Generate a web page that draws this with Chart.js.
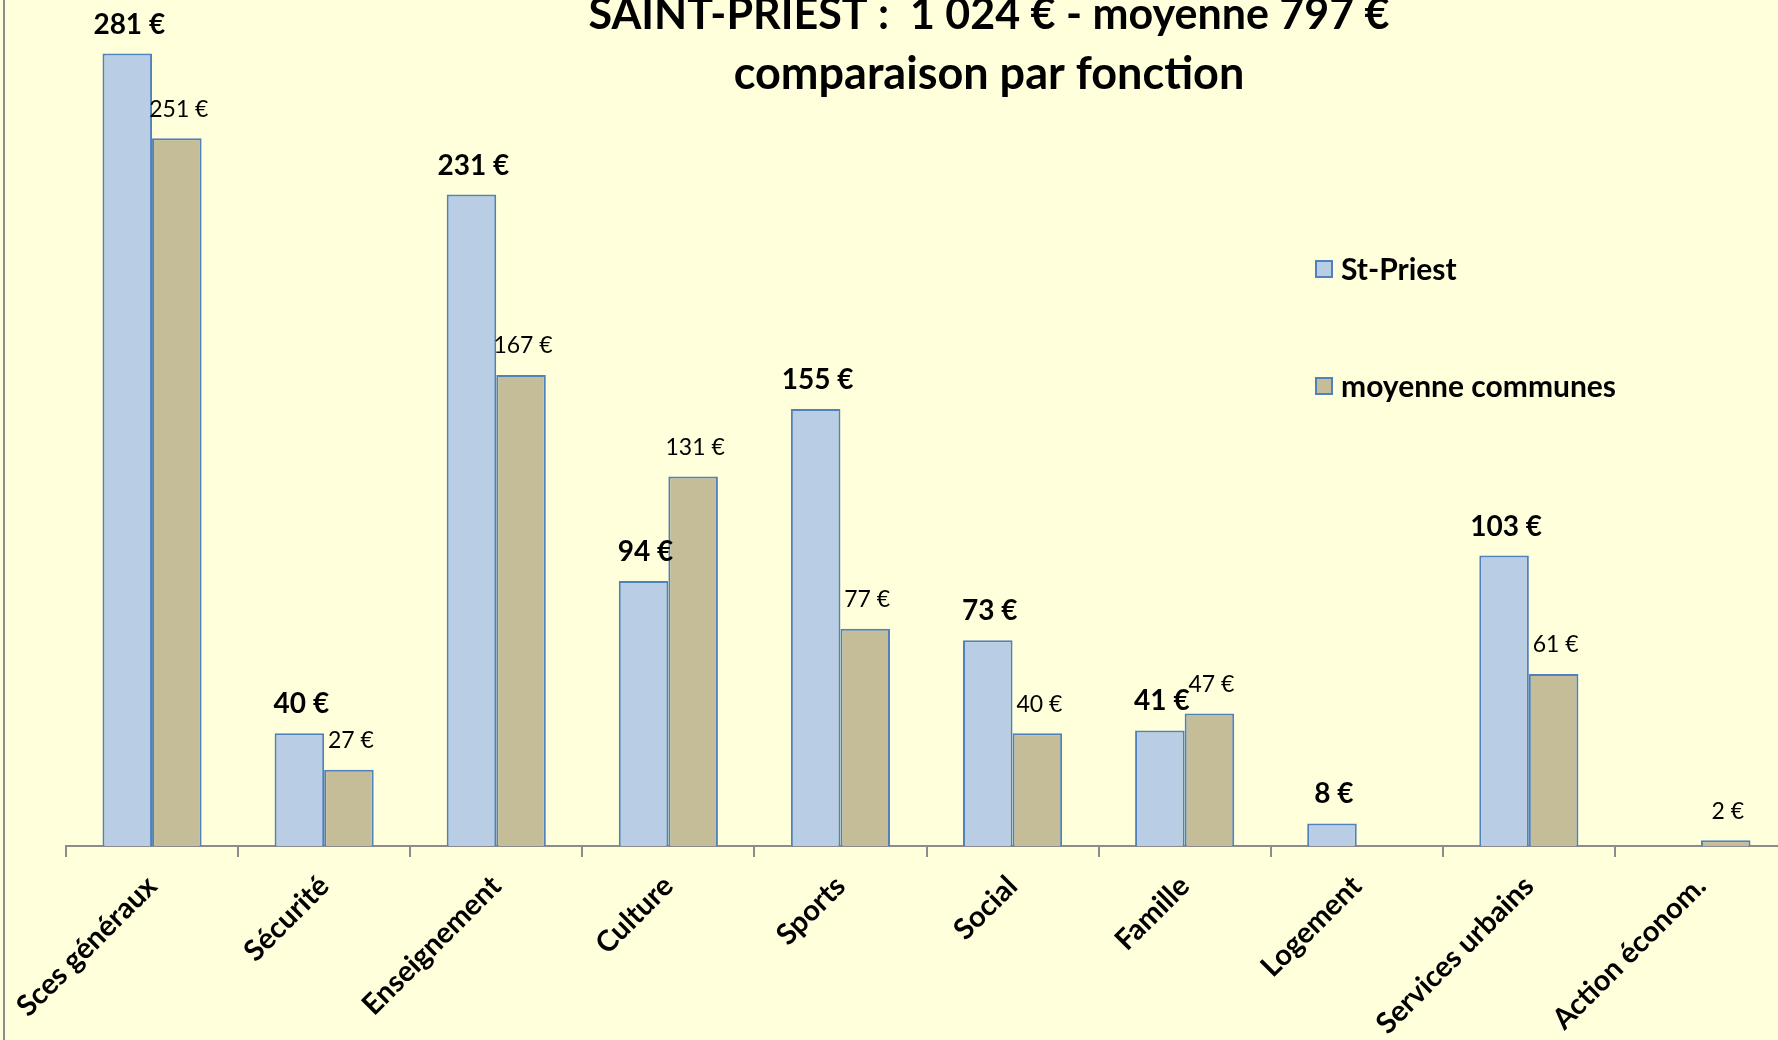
<!DOCTYPE html>
<html>
<head>
<meta charset="utf-8">
<script src="https://cdn.jsdelivr.net/npm/chart.js@4.4.1/dist/chart.umd.min.js"></script>
<style>
    html, body { margin: 0; padding: 0; overflow: hidden; background: #FFFFDB; }
    #wrap { position: relative; width: 1800px; height: 1040px; }
    #frame { position: absolute; left: 3px; top: 0; width: 2px; height: 1040px; background: #8C8C8C; }
</style>
</head>
<body>
<div id="wrap">
    <canvas id="chart" width="1800" height="1040"></canvas>
    <div id="frame"></div>
</div>
<script>
const categories = ["Sces généraux", "Sécurité", "Enseignement", "Culture", "Sports", "Social", "Famille", "Logement", "Services urbains", "Action économ."];
const stPriest = [281, 40, 231, 94, 155, 73, 41, 8, 103, 0];
const moyenne = [251, 27, 167, 131, 77, 40, 47, 0, 61, 2];
const titleLines = ["SAINT-PRIEST :  1 024 € - moyenne 797 €", "comparaison par fonction"];

const FONT = "Lato, 'Open Sans', sans-serif";

const valueLabels = {
    id: "valueLabels",
    afterDatasetsDraw(chart) {
        const ctx = chart.ctx;
        ctx.save();
        ctx.textAlign = "center";
        ctx.textBaseline = "middle";
        ctx.fillStyle = "#000";
        chart.data.datasets.forEach((ds, di) => {
            const meta = chart.getDatasetMeta(di);
            ctx.font = di === 0 ? `bold 28px ${FONT}` : `23px ${FONT}`;
            meta.data.forEach((bar, i) => {
                const v = ds.data[i];
                if (!v) return;
                ctx.fillText(`${v} €`, bar.x + 2, bar.y - 29);
            });
        });
        ctx.restore();
    },
};

const titleAndLegend = {
    id: "titleAndLegend",
    afterDraw(chart) {
        const ctx = chart.ctx;
        ctx.save();
        ctx.fillStyle = "#000";
        ctx.textAlign = "center";
        ctx.textBaseline = "middle";
        ctx.font = `bold 43px ${FONT}`;
        ctx.fillText(titleLines[0], 989, 15);
        ctx.font = `bold 45px ${FONT}`;
        ctx.fillText(titleLines[1], 989, 74);

        ctx.textAlign = "left";
        ctx.font = `bold 30px ${FONT}`;
        const rows = [269, 386];
        chart.data.datasets.forEach((ds, di) => {
            const y = rows[di];
            ctx.fillStyle = ds.backgroundColor;
            ctx.fillRect(1316, y - 8, 16, 16);
            ctx.strokeStyle = ds.borderColor;
            ctx.lineWidth = 2;
            ctx.strokeRect(1316, y - 8, 16, 16);
            ctx.fillStyle = "#000";
            ctx.fillText(ds.label, 1341, y + 1);
        });
        ctx.restore();
    },
};

new Chart(document.getElementById("chart"), {
    type: "bar",
    data: {
        labels: categories,
        datasets: [
            {
                label: "St-Priest",
                data: stPriest,
                backgroundColor: "#B9CDE5",
                borderColor: "#4F81BD",
                borderWidth: 2,
            },
            {
                label: "moyenne communes",
                data: moyenne,
                backgroundColor: "#C4BD97",
                borderColor: "#4F81BD",
                borderWidth: 2,
            },
        ],
    },
    options: {
        responsive: false,
        animation: false,
        layout: { padding: { left: 66, right: 13, top: 0, bottom: 0 } },
        plugins: {
            legend: { display: false },
            tooltip: { enabled: false },
        },
        datasets: {
            bar: { categoryPercentage: 0.576, barPercentage: 1 },
        },
        scales: {
            x: {
                afterFit: (scale) => { scale.height = 194; },
                grid: {
                    drawOnChartArea: false,
                    tickLength: 11,
                    color: "#8C8C8C",
                    lineWidth: 2,
                },
                border: { display: true, color: "#8C8C8C", width: 2 },
                ticks: {
                    color: "#000",
                    font: { family: FONT, size: 29, weight: "bold" },
                    minRotation: 45,
                    maxRotation: 45,
                    padding: 12,
                    autoSkip: false,
                },
            },
            y: {
                display: false,
                min: 0,
                max: 300,
            },
        },
    },
    plugins: [valueLabels, titleAndLegend],
});
</script>
</body>
</html>
